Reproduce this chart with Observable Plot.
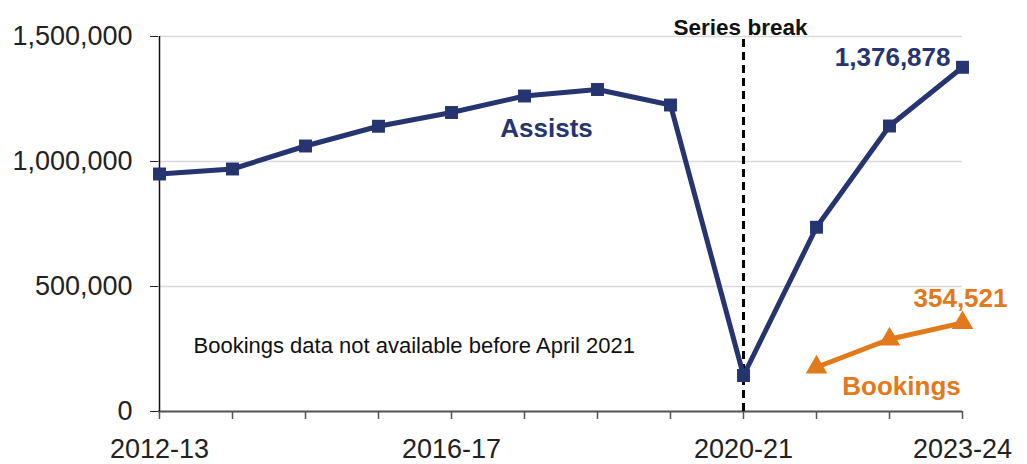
<!DOCTYPE html>
<html>
<head>
<meta charset="utf-8">
<script src="https://cdn.jsdelivr.net/npm/d3@7"></script>
<script src="https://cdn.jsdelivr.net/npm/@observablehq/plot@0.6"></script>
<style>
  html, body { margin: 0; padding: 0; background: #fff; }
  body { width: 1027px; height: 464px; overflow: hidden; }
</style>
</head>
<body>
<div id="chart"></div>
<script>
const years = ["2012-13","2013-14","2014-15","2015-16","2016-17","2017-18","2018-19","2019-20","2020-21","2021-22","2022-23","2023-24"];
const assists = [950000, 970000, 1062000, 1141000, 1196000, 1262000, 1288000, 1226000, 144000, 737000, 1142000, 1376878];
const bookingYears = ["2021-22","2022-23","2023-24"];
const bookings = [177000, 289000, 354521];
const yTicks = [0, 500000, 1000000, 1500000];
const xLabelYears = ["2012-13","2016-17","2020-21","2023-24"];
const breakYear = "2020-21";

const navy = "#263470";
const orange = "#E2791B";
const font = "'Liberation Sans', Arial, sans-serif";

const assistsData = years.map((y, i) => ({year: y, value: assists[i]}));
const bookingsData = bookingYears.map((y, i) => ({year: y, value: bookings[i]}));
const lastA = assistsData[assistsData.length - 1];
const lastB = bookingsData[bookingsData.length - 1];

const chart = Plot.plot({
  width: 1027,
  height: 464,
  marginLeft: 158,
  marginRight: 65,
  marginTop: 36,
  marginBottom: 53,
  style: {fontFamily: font, background: "#fff"},
  x: {type: "point", domain: years, padding: 0},
  y: {domain: [0, 1500000], clamp: false},
  marks: [
    Plot.gridY(yTicks, {stroke: "#d9d9d9", strokeOpacity: 1, strokeWidth: 1.3}),
    Plot.axisY(yTicks, {
      tickFormat: d => d3.format(",")(d),
      tickSize: 8, tickPadding: 18, fontSize: 27, fill: "#222", stroke: "#222", label: null
    }),
    Plot.axisX(years, {
      tickFormat: d => xLabelYears.includes(d) ? d : "",
      tickSize: 8, tickPadding: 19, fontSize: 27, fill: "#222", stroke: "#555", strokeWidth: 1.5, label: null
    }),
    Plot.ruleY([0], {stroke: "#555", strokeWidth: 2}),
    Plot.ruleX([years[0]], {y1: 0, y2: 1500000, stroke: "#111", strokeWidth: 1.5}),
    Plot.ruleX([breakYear], {y1: 0, y2: 1508000, stroke: "#000", strokeWidth: 3, strokeDasharray: "8,5"}),
    Plot.text([breakYear], {x: d => d, frameAnchor: "top", dx: -3, dy: -17, text: () => "Series break",
      fontSize: 22.5, fontWeight: "bold", fill: "#111"}),
    Plot.line(assistsData, {x: "year", y: "value", stroke: navy, strokeWidth: 5}),
    Plot.dot(assistsData, {x: "year", y: "value", symbol: "square", r: 7.3, fill: navy, stroke: null}),
    Plot.line(bookingsData, {x: "year", y: "value", stroke: orange, strokeWidth: 5}),
    Plot.dot(bookingsData, {x: "year", y: "value", symbol: "triangle", r: 8, fill: orange, stroke: null}),
    Plot.text([lastA], {x: "year", y: "value", text: d => d3.format(",")(d.value), textAnchor: "end",
      dx: -12, dy: -10, fontSize: 26, fontWeight: "bold", fill: navy}),
    Plot.text([lastB], {x: "year", y: "value", text: d => d3.format(",")(d.value), textAnchor: "end",
      dx: 45, dy: -24, fontSize: 26, fontWeight: "bold", fill: orange}),
    Plot.text([assistsData[5]], {x: "year", y: "value", text: () => "Assists",
      dx: 22, dy: 33, fontSize: 26, fontWeight: "bold", fill: navy}),
    Plot.text([bookingsData[1]], {x: "year", y: "value", text: () => "Bookings",
      dx: 12, dy: 47, fontSize: 26, fontWeight: "bold", fill: orange}),
    Plot.text([years[0]], {x: d => d, frameAnchor: "bottom", textAnchor: "start", dx: 34, dy: -59,
      text: () => "Bookings data not available before April 2021", fontSize: 22, fill: "#111"})
  ]
});
document.getElementById("chart").appendChild(chart);
</script>
</body>
</html>
